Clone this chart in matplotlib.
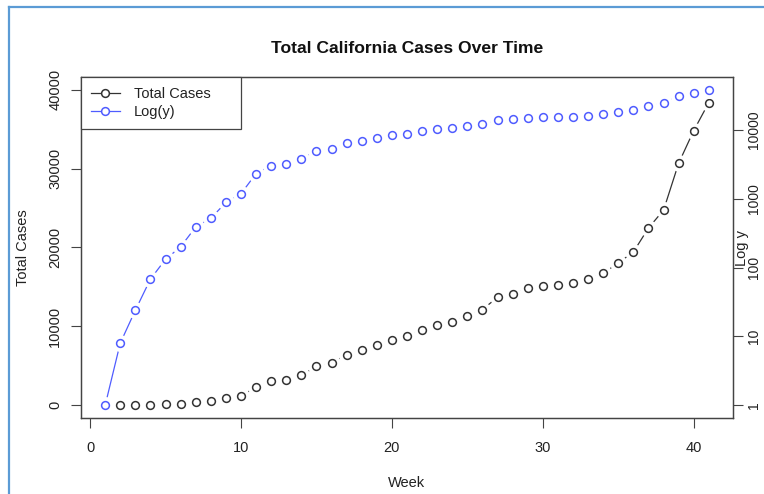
import numpy as np
import matplotlib.pyplot as plt
from matplotlib.lines import Line2D

plt.rcParams['font.family'] = ['Liberation Sans', 'DejaVu Sans']

# --- data ---
weeks = list(range(1, 42))
total_cases = [1, 8, 24, 68, 132, 200, 389, 519, 883, 1180,
               2320, 3030, 3220, 3800, 4970, 5360, 6420, 6990, 7630, 8340,
               8810, 9600, 10160, 10620, 11380, 12140, 13700, 14160, 14840, 15130,
               15260, 15550, 16060, 16730, 18040, 19430, 22470, 24740, 30680, 34820,
               38360]
x_ticks = [0, 10, 20, 30, 40]
y_ticks = [0, 10000, 20000, 30000, 40000]
log_ticks = [1, 10, 100, 1000, 10000]
legend_labels = ["Total Cases", "Log(y)"]

# --- style ---
W, H = 764, 494
BLACK = "#333333"
BLUE = "#4f5cff"
AXC = "#444444"
FS = 10.5
MS = 5.6        # circle size
GAP_MS = 12.2   # white halo -> R style type="b" gaps
LW = 0.9

fig = plt.figure(figsize=(W / 100, H / 100), dpi=100)
ax = fig.add_axes([81 / W, 1 - 418 / H, (733 - 81) / W, (418 - 77) / H])
ax2 = ax.twinx()


def draw_b(a, x, y, color):
    # line, then white halo to cut gaps, then open circles
    a.plot(x, y, color=color, lw=LW, zorder=2)
    a.plot(x, y, ls="none", marker="o", ms=GAP_MS, mfc="white", mec="none", zorder=3)
    a.plot(x, y, ls="none", marker="o", ms=MS, mfc="none", mec=color, mew=1.1, zorder=4)


draw_b(ax, weeks, total_cases, BLACK)
draw_b(ax2, weeks, total_cases, BLUE)

# --- limits (R style 4% padding) ---
ax.set_xlim(-0.6, 42.6)
ax.set_ylim(-1600, 41600)
ax2.set_yscale("log")
L = np.log10(max(total_cases))
ax2.set_ylim(10 ** (-0.04 * L), 10 ** (1.04 * L))

# --- ticks ---
ax.set_xticks(x_ticks)
ax.set_xticklabels([str(v) for v in x_ticks])
ax.set_yticks(y_ticks)
ax.set_yticklabels([str(v) for v in y_ticks], rotation=90, va="center")
ax2.set_yticks(log_ticks)
ax2.set_yticklabels([str(v) for v in log_ticks], rotation=90, va="center")
ax2.minorticks_off()

for a in (ax, ax2):
    for s in a.spines.values():
        s.set_color(AXC)
        s.set_linewidth(0.9)
ax.tick_params(axis="x", direction="out", length=7, width=0.8, color=AXC,
               labelsize=FS, labelcolor="#222222", pad=9.2)
ax.tick_params(axis="y", direction="out", length=7, width=0.8, color=AXC,
               labelsize=FS, labelcolor="#222222", pad=6.5)
# right labels pulled in a little so they stay inside the picture
ax2.tick_params(axis="y", direction="out", length=7, width=0.8, color=AXC,
                labelsize=10, labelcolor="#222222", pad=3.0)

# --- labels ---
ax.set_title("Total California Cases Over Time", fontsize=12.6,
             fontweight="bold", pad=17.3, color="#111111")
ax.set_xlabel("Week", fontsize=FS, color="#222222")
ax.xaxis.set_label_coords(0.5, -0.1695)
ax.set_ylabel("Total Cases", fontsize=FS, color="#222222")
ax.yaxis.set_label_coords(-0.0785, 0.5)
ax2.text(1.0135, 0.5, "Log y", transform=ax2.transAxes, rotation=90,
         ha="center", va="center", fontsize=FS, color="#222222")

# --- legend ---
handles = [
    Line2D([], [], color=BLACK, lw=LW, marker="o", ms=MS, mfc="white", mec=BLACK, mew=1.1),
    Line2D([], [], color=BLUE, lw=LW, marker="o", ms=MS, mfc="white", mec=BLUE, mew=1.1),
]
leg = ax2.legend(handles, legend_labels, loc="upper left",
                 bbox_to_anchor=(0, 1, 160 / 652, 0), mode="expand",
                 borderaxespad=0, fancybox=False, edgecolor=AXC, framealpha=1,
                 fontsize=FS, handlelength=1.95, handletextpad=0.95,
                 borderpad=0.7, labelspacing=0.26)
leg.get_frame().set_linewidth(0.9)
for t in leg.get_texts():
    t.set_color("#222222")

# --- screenshot frame (blue border at top/left) ---
fig.add_artist(Line2D([9 / W, 9 / W], [0, 1 - 7 / H], transform=fig.transFigure,
                      color="#5b9bd5", lw=1.6))
fig.add_artist(Line2D([9 / W, 1], [1 - 7 / H, 1 - 7 / H], transform=fig.transFigure,
                      color="#5b9bd5", lw=1.6))

fig.savefig("out.png", dpi=100)
